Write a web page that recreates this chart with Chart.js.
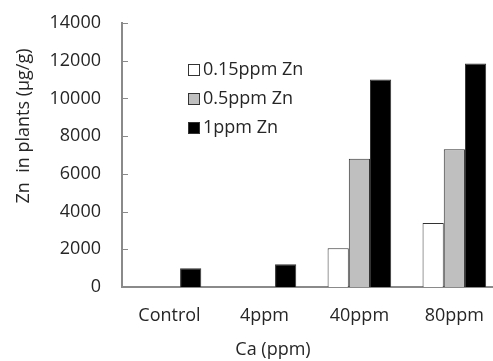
<!DOCTYPE html>
<html>
<head>
<meta charset="utf-8">
<script src="https://cdn.jsdelivr.net/npm/chart.js@4"></script>
<style>
  html, body { margin: 0; padding: 0; background: #fff; overflow: hidden; }
  #wrap { width: 502px; height: 361px; }
</style>
</head>
<body>
<div id="wrap"><canvas id="chart"></canvas></div>
<script>
const categories = ['Control', '4ppm', '40ppm', '80ppm'];
const seriesNames = ['0.15ppm Zn', '0.5ppm Zn', '1ppm Zn'];
const low = [0, 0, 2050, 3400];
const mid = [0, 0, 6800, 7300];
const high = [1000, 1200, 11000, 11850];
const yTicks = [0, 2000, 4000, 6000, 8000, 10000, 12000, 14000];

const fills = ['#ffffff', '#bfbfbf', '#000000'];
const font = 'Open Sans';
const textColor = '#262626';
const axisColor = '#8a8a8a';

// tick marks point inward, legend sits inside the plot, axis titles off-centre
const extras = {
    id: 'extras',
    afterDraw(chart) {
        const ctx = chart.ctx;
        const area = chart.chartArea;
        const y = chart.scales.y;
        ctx.save();
        ctx.strokeStyle = axisColor;
        ctx.lineWidth = 1;
        yTicks.forEach(v => {
            const py = Math.round(y.getPixelForValue(v)) + 0.5;
            ctx.beginPath();
            ctx.moveTo(area.left, py);
            ctx.lineTo(area.left + 6, py);
            ctx.stroke();
        });

        ctx.font = `18px "${font}"`;
        ctx.fillStyle = textColor;
        ctx.textBaseline = 'middle';
        chart.data.datasets.forEach((ds, i) => {
            const ly = area.top + 47 + i * 29;
            const lx = area.left + 66;
            ctx.fillStyle = ds.backgroundColor;
            ctx.fillRect(lx, ly - 6, 12, 12);
            ctx.strokeStyle = '#333';
            ctx.strokeRect(lx + 0.5, ly - 5.5, 11, 11);
            ctx.fillStyle = textColor;
            ctx.textAlign = 'left';
            ctx.fillText(ds.label, lx + 15, ly);
        });

        ctx.textAlign = 'center';
        ctx.fillText('Ca (ppm)', area.left + 151, 350);
        ctx.translate(24, 126);
        ctx.rotate(-Math.PI / 2);
        ctx.fillText('Zn  in plants (µg/g)', 0, 0);
        ctx.restore();
    }
};

const datasets = [low, mid, high].map((vals, i) => ({
    label: seriesNames[i],
    data: vals,
    backgroundColor: fills[i],
    borderColor: '#333333',
    borderWidth: 1,
    borderSkipped: 'start'
}));

new Chart(document.getElementById('chart'), {
    type: 'bar',
    data: { labels: categories, datasets: datasets },
    options: {
        responsive: true,
        maintainAspectRatio: false,
        animation: false,
        layout: { padding: { top: 23, right: 0, left: 0, bottom: 0 } },
        plugins: { legend: { display: false }, tooltip: { enabled: false } },
        datasets: { bar: { categoryPercentage: 0.67, barPercentage: 1 } },
        scales: {
            x: {
                grid: { display: false, drawTicks: false },
                border: { color: axisColor, width: 2 },
                ticks: { color: textColor, font: { family: font, size: 18 }, padding: 18 },
                afterFit(scale) { scale.height = 74; }
            },
            y: {
                min: 0,
                max: 14000,
                afterBuildTicks(scale) { scale.ticks = yTicks.map(v => ({ value: v })); },
                grid: { display: false, drawTicks: false },
                border: { color: axisColor, width: 2 },
                ticks: {
                    color: textColor,
                    font: { family: font, size: 18 },
                    padding: 21,
                    callback: v => String(v)
                },
                afterFit(scale) {
                    scale.width = 122;
                    scale.paddingTop = 0;
                    scale.paddingBottom = 0;
                }
            }
        }
    },
    plugins: [extras]
});
</script>
</body>
</html>
